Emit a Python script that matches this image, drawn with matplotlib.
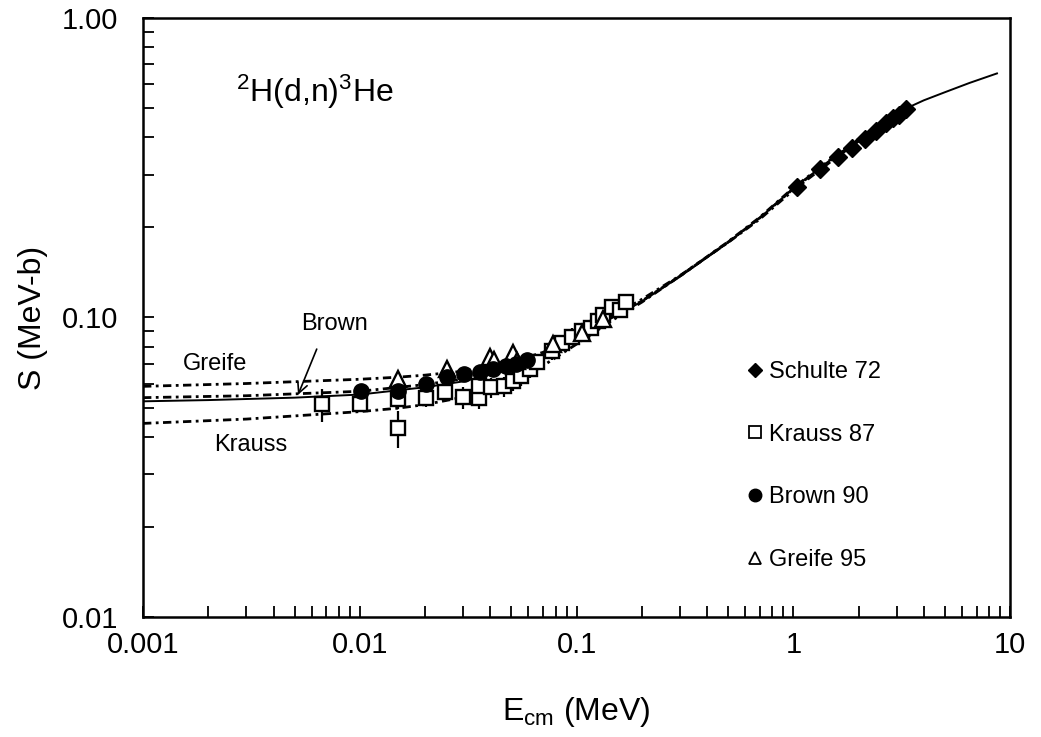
import numpy as np
import matplotlib
matplotlib.use("Agg")
import matplotlib.pyplot as plt
from matplotlib.lines import Line2D

plt.rcParams["font.family"] = ["Liberation Sans", "DejaVu Sans"]
plt.rcParams["mathtext.fontset"] = "custom"
plt.rcParams["mathtext.rm"] = "Liberation Sans"
plt.rcParams["mathtext.it"] = "Liberation Sans"
plt.rcParams["mathtext.default"] = "regular"

# ------------------------------------------------------------------ #
#  Data
# ------------------------------------------------------------------ #
# R-matrix style fit (solid)
fit_E = [0.001, 0.002, 0.005, 0.01, 0.02, 0.03, 0.05, 0.07, 0.1, 0.15,
         0.2, 0.3, 0.5, 0.7, 1.0, 1.5, 2.0, 2.5, 3.0, 3.5, 4.0, 5.0,
         6.5, 8.7]
fit_S = [0.0525, 0.0530, 0.0540, 0.0553, 0.0585, 0.0612, 0.0672, 0.0740,
         0.0850, 0.1010, 0.1130, 0.1370, 0.1780, 0.2150, 0.2700, 0.3380,
         0.3930, 0.4380, 0.4780, 0.5080, 0.5310, 0.5650, 0.6070, 0.6530]

# individual fits (dotted)
greife_fit_E = [0.001, 0.003, 0.01, 0.015, 0.02, 0.03, 0.05, 0.07, 0.1,
                0.15, 0.2, 0.3, 0.5, 0.7, 1.0, 1.5, 2.0, 3.0]
greife_fit_S = [0.0589, 0.0602, 0.0622, 0.0632, 0.0642, 0.0662, 0.0710,
                0.0765, 0.0865, 0.1020, 0.1150, 0.1380, 0.1780, 0.2130,
                0.2660, 0.3330, 0.3880, 0.4720]

brown_fit_E = [0.001, 0.003, 0.01, 0.02, 0.03, 0.05, 0.07, 0.1, 0.15,
               0.2, 0.3, 0.5, 0.7, 1.0, 1.5, 2.0, 3.0]
brown_fit_S = [0.0540, 0.0548, 0.0567, 0.0597, 0.0624, 0.0685, 0.0752,
               0.0855, 0.1015, 0.1135, 0.1375, 0.1785, 0.2150, 0.2690,
               0.3360, 0.3900, 0.4750]

krauss_fit_E = [0.001, 0.003, 0.01, 0.015, 0.02, 0.03, 0.05, 0.07, 0.1,
                0.15, 0.2, 0.3, 0.5, 0.7, 1.0, 1.5, 2.0, 3.0]
krauss_fit_S = [0.0443, 0.0458, 0.0485, 0.0498, 0.0512, 0.0542, 0.0612,
                0.0690, 0.0815, 0.0990, 0.1125, 0.1375, 0.1790, 0.2160,
                0.2710, 0.3390, 0.3940, 0.4790]

# Schulte 72
schulte_E = [1.04, 1.33, 1.61, 1.87, 2.15, 2.41, 2.68, 2.89, 3.08, 3.32]
schulte_S = [0.273, 0.314, 0.344, 0.369, 0.395, 0.420, 0.447, 0.464,
             0.475, 0.498]

# Krauss 87
krauss_E = [0.00668, 0.0100, 0.0150, 0.0150, 0.0201, 0.0246, 0.0298,
            0.0354, 0.0354, 0.0405, 0.0465, 0.0507, 0.0557, 0.0607,
            0.0660, 0.0767, 0.0860, 0.0957, 0.106, 0.117, 0.125, 0.132,
            0.145, 0.158, 0.169]
krauss_S = [0.0513, 0.0513, 0.0533, 0.0427, 0.0537, 0.0562, 0.0541,
            0.0540, 0.0589, 0.0584, 0.0589, 0.0612, 0.0636, 0.0671,
            0.0708, 0.0770, 0.0825, 0.0864, 0.0900, 0.0926, 0.0970,
            0.1023, 0.1080, 0.1060, 0.1130]
krauss_err = [0.0065, 0.0030, 0.0040, 0.0060, 0.0035, 0.0040, 0.0045,
              0.0045, 0.0045, 0.0045, 0.0045, 0.0045, 0.0045, 0.0045,
              0.0045, 0.0050, 0.0050, 0.0055, 0.0055, 0.0060, 0.0060,
              0.0060, 0.0065, 0.0065, 0.0065]

# Brown 90
brown_E = [0.0101, 0.0150, 0.0201, 0.0252, 0.0304, 0.0357, 0.0410,
           0.0474, 0.0527, 0.0593]
brown_S = [0.0567, 0.0570, 0.0598, 0.0631, 0.0646, 0.0656, 0.0671,
           0.0687, 0.0697, 0.0724]

# Greife 95
greife_E = [0.0150, 0.0252, 0.0400, 0.0418, 0.0510, 0.0530, 0.0776,
            0.106, 0.132]
greife_S = [0.0621, 0.0671, 0.0740, 0.0724, 0.0764, 0.0714, 0.0813,
            0.0890, 0.0985]

# ------------------------------------------------------------------ #
#  Figure
# ------------------------------------------------------------------ #
fig = plt.figure(figsize=(10.41, 7.37), dpi=100)
ax = fig.add_axes([0.1374, 0.1628, 0.8329, 0.8128])

dots = (0, (3.0, 1.6, 1.0, 1.6))
ax.plot(greife_fit_E, greife_fit_S, color="black", lw=2.0, ls=dots, zorder=2)
ax.plot(brown_fit_E, brown_fit_S, color="black", lw=2.0, ls=dots, zorder=2)
ax.plot(krauss_fit_E, krauss_fit_S, color="black", lw=2.0, ls=dots, zorder=2)
ax.plot(fit_E, fit_S, color="black", lw=1.4, zorder=3)

# data points
ax.errorbar(krauss_E, krauss_S, yerr=krauss_err, fmt="s", ms=10,
            mfc="white", mec="black", mew=1.7, ecolor="black",
            elinewidth=1.6, capsize=0, zorder=4)
ax.plot(greife_E, greife_S, "^", ms=12, mfc="white", mec="black",
        mew=1.7, zorder=5)
ax.plot(brown_E, brown_S, "o", ms=11, mfc="black", mec="black", zorder=6)
ax.plot(schulte_E, schulte_S, "D", ms=9, mfc="black", mec="black", zorder=7)

# axes
ax.set_xscale("log")
ax.set_yscale("log")
ax.set_xlim(0.001, 10)
ax.set_ylim(0.01, 1.0)
ax.set_xticks([0.001, 0.01, 0.1, 1, 10])
ax.set_xticklabels(["0.001", "0.01", "0.1", "1", "10"])
ax.set_yticks([0.01, 0.1, 1.0])
ax.set_yticklabels(["0.01", "0.10", "1.00"])
ax.tick_params(which="both", direction="in", top=False, right=False,
               width=1.3, labelsize=21)
ax.tick_params(axis="x", which="major", length=8, pad=10)
ax.tick_params(axis="y", which="major", length=8, pad=18)
ax.tick_params(which="minor", length=8)
for s in ax.spines.values():
    s.set_linewidth(1.8)

ax.set_xlabel(r"E$_{cm}$ (MeV)", fontsize=23, labelpad=26)
ax.set_ylabel("S (MeV-b)", fontsize=23, labelpad=10)

# annotations
ax.text(0.107, 0.876, r"$^{2}$H(d,n)$^{3}$He", transform=ax.transAxes,
        fontsize=23, ha="left", va="center")
ax.text(0.00767, 0.0948, "Brown", fontsize=17, ha="center", va="center")
ax.text(0.00215, 0.0697, "Greife", fontsize=17, ha="center", va="center")
ax.text(0.00315, 0.0374, "Krauss", fontsize=17, ha="center", va="center")
ax.annotate("", xy=(0.00513, 0.0541), xytext=(0.0064, 0.080),
            arrowprops=dict(arrowstyle="->", lw=1.2, color="black",
                            mutation_scale=18))

# legend
handles = [
    Line2D([], [], ls="none", marker="D", ms=7, mfc="black", mec="black"),
    Line2D([], [], ls="none", marker="s", ms=8, mfc="white", mec="black", mew=1.3),
    Line2D([], [], ls="none", marker="o", ms=9, mfc="black", mec="black"),
    Line2D([], [], ls="none", marker="^", ms=8, mfc="white", mec="black", mew=1.3),
]
labels = ["Schulte 72", "Krauss 87", "Brown 90", "Greife 95"]
ax.legend(handles, labels, loc="upper left", bbox_to_anchor=(0.684, 0.447),
          frameon=False, fontsize=17, handlelength=0.6, handletextpad=0.3,
          labelspacing=1.72, borderpad=0)

fig.savefig("out.png", dpi=100)
